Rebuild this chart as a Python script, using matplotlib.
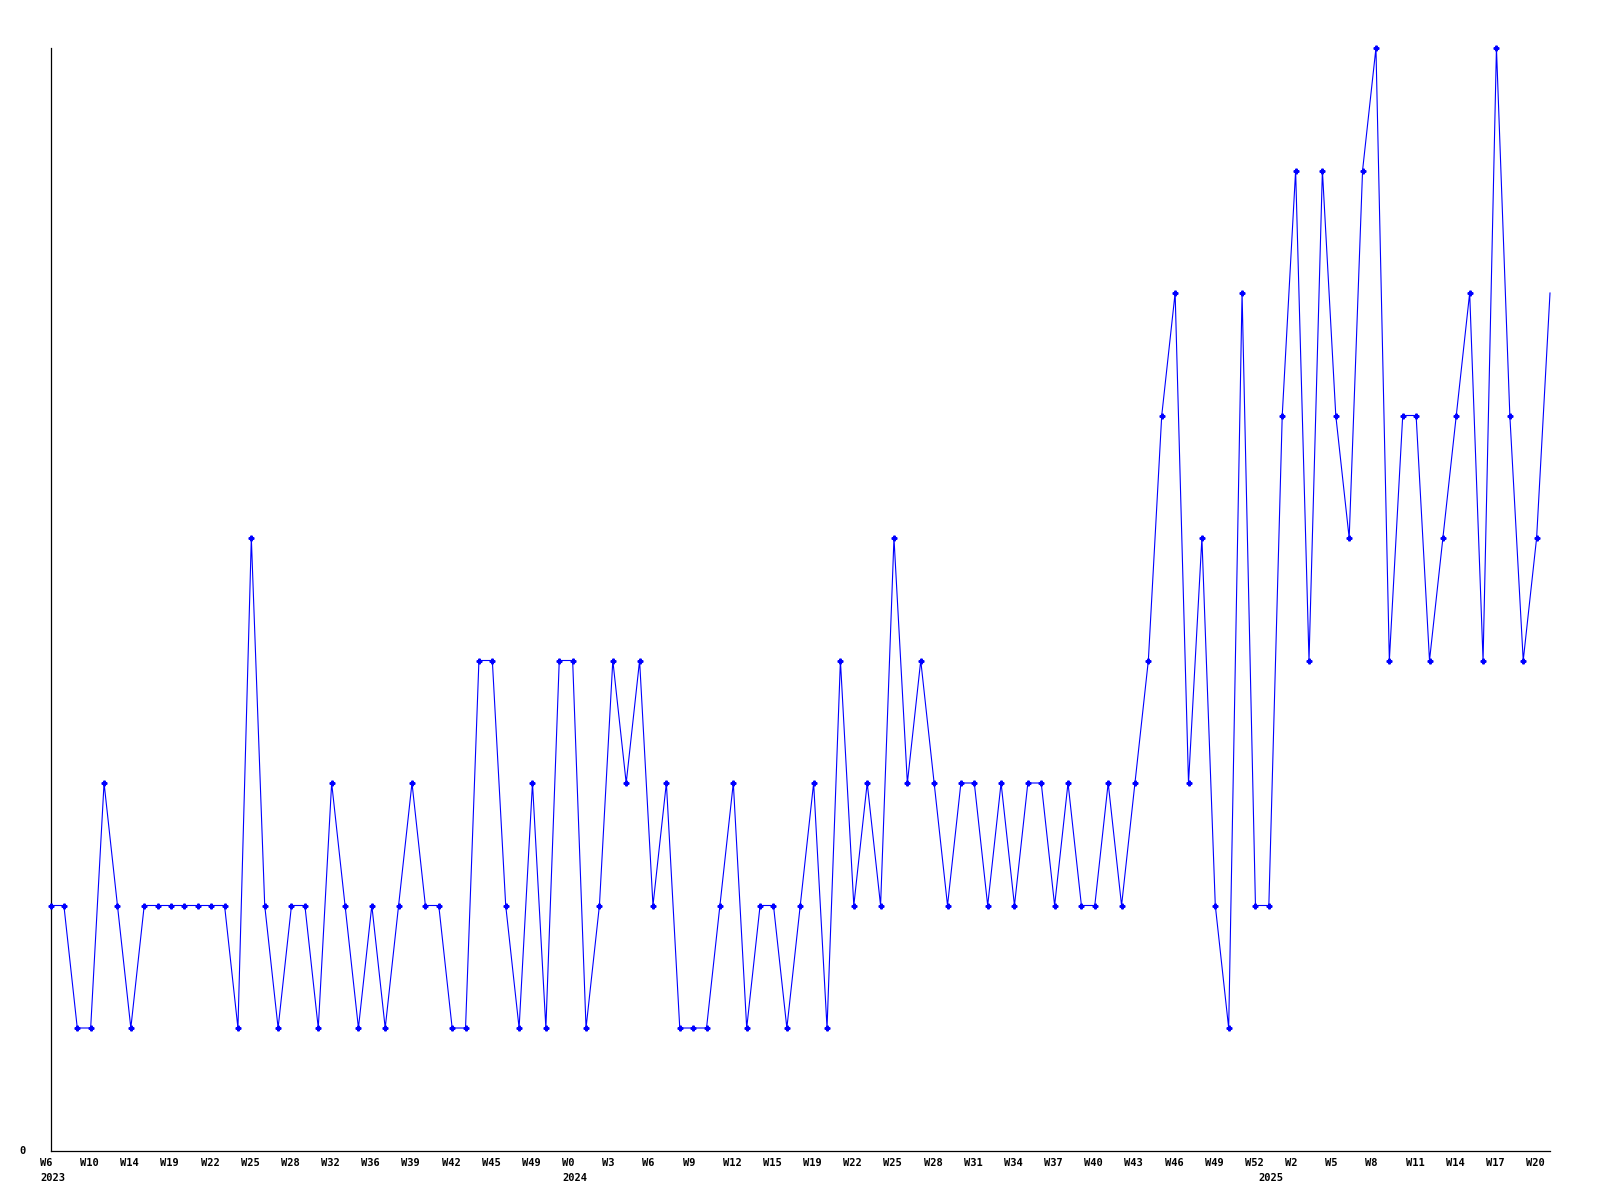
import matplotlib
matplotlib.use("Agg")
import matplotlib.pyplot as plt
from matplotlib.transforms import ScaledTranslation

# Weekly counts (2023 W6 .. 2025 W21)
values = [2, 2, 1, 1, 3, 2, 1, 2, 2, 2, 2, 2, 2, 2, 1, 5, 2, 1, 2, 2,
          1, 3, 2, 1, 2, 1, 2, 3, 2, 2, 1, 1, 4, 4, 2, 1, 3, 1, 4, 4,
          1, 2, 4, 3, 4, 2, 3, 1, 1, 1, 2, 3, 1, 2, 2, 1, 2, 3, 1, 4,
          2, 3, 2, 5, 3, 4, 3, 2, 3, 3, 2, 3, 2, 3, 3, 2, 3, 2, 2, 3,
          2, 3, 4, 6, 7, 3, 5, 2, 1, 7, 2, 2, 6, 8, 4, 8, 6, 5, 8, 9,
          4, 6, 6, 4, 5, 6, 7, 4, 9, 6, 4, 5, 7]

week_labels = ["W6", "W10", "W14", "W19", "W22", "W25", "W28", "W32", "W36",
               "W39", "W42", "W45", "W49", "W0", "W3", "W6", "W9", "W12",
               "W15", "W19", "W22", "W25", "W28", "W31", "W34", "W37", "W40",
               "W43", "W46", "W49", "W52", "W2", "W5", "W8", "W11", "W14",
               "W17", "W20"]
week_label_idx = list(range(0, 112, 3))
year_labels = ["2023", "2024", "2025"]
year_label_idx = [0, 39, 91]

x = list(range(len(values)))

fig = plt.figure(figsize=(16, 12), dpi=100)
ax = fig.add_axes([50.5 / 1600, 1 - 1150.5 / 1200, (1550 - 50.5) / 1600, (1150.5 - 48) / 1200])

ax.plot(x, values, color="#0000FF", linewidth=0.8, marker="P", markersize=3.4,
        markevery=slice(0, len(values) - 1), clip_on=False, zorder=3)

ax.set_xlim(0, len(values) - 1)
ax.set_ylim(0, 9)

for s in ["top", "right"]:
    ax.spines[s].set_visible(False)
for s in ["left", "bottom"]:
    ax.spines[s].set_color("black")
    ax.spines[s].set_linewidth(0.9)

font = dict(family="DejaVu Sans Mono", weight="bold", size=7.5)

ax.set_yticks([0], ["0"])
ax.tick_params(axis="y", length=0, pad=18)
for lab in ax.get_yticklabels():
    lab.set_fontproperties(font)

ax.xaxis.remove_overlapping_locs = False
ax.set_xticks(week_label_idx, week_labels)
ax.set_xticks(year_label_idx, year_labels, minor=True)
ax.tick_params(axis="x", which="major", length=0, pad=5.5)
ax.tick_params(axis="x", which="minor", length=0, pad=16.5)
shift = ScaledTranslation(-10.6 / 100, 0, fig.dpi_scale_trans)
for lab in ax.get_xticklabels() + ax.get_xticklabels(minor=True):
    lab.set_fontproperties(font)
    lab.set_horizontalalignment("left")
    lab.set_transform(lab.get_transform() + shift)

fig.savefig("out.png", dpi=100, facecolor="white")
